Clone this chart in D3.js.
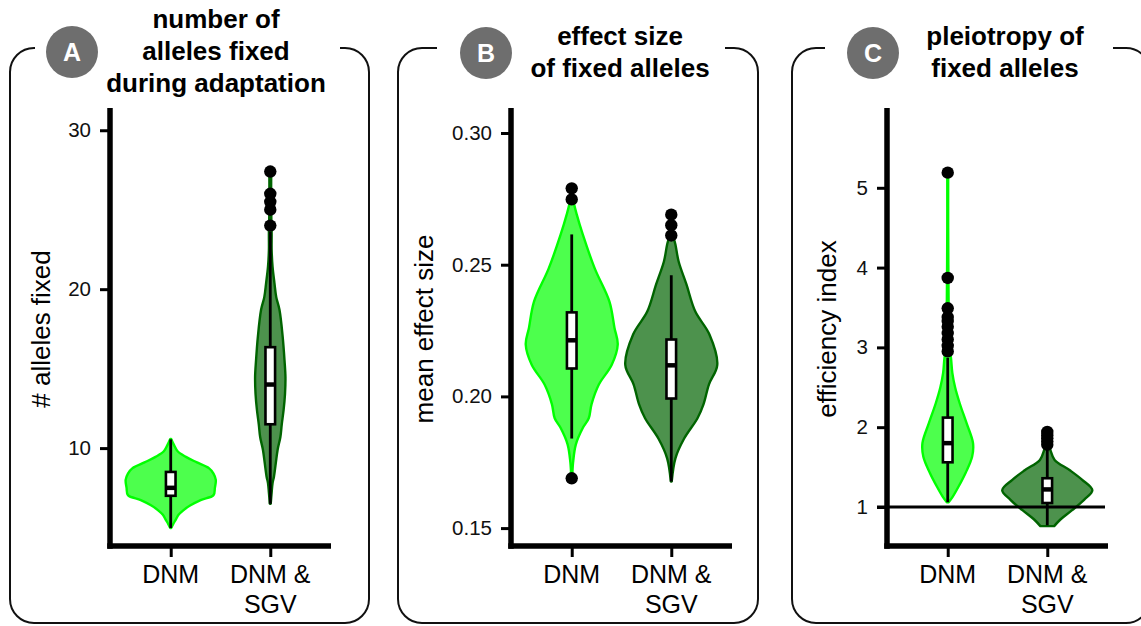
<!DOCTYPE html>
<html><head><meta charset="utf-8">
<script src="https://cdn.jsdelivr.net/npm/d3@7"></script>
<style>
body{margin:0;background:#fff}
svg{display:block}
text{font-family:"Liberation Sans",Arial,Helvetica,sans-serif;fill:#000}
</style>
</head><body>
<svg id="chart" width="1141" height="626"></svg>
<script>
// ---------------- DATA ----------------
const categories = ["DNM", "DNM & SGV"];
const categoryLines = [["DNM"], ["DNM &", "SGV"]];

// panel A: number of alleles fixed
const ticksA = [10, 20, 30];
const domainA = [3.84, 31.4];
// density profiles: [value, relative density]
const violinA_DNM = [[10.57,0.01],[10.2,0.07],[9.8,0.15],[9.45,0.33],[9.1,0.57],[8.74,0.83],[8.4,0.93],[8.0,0.98],[7.5,0.96],[7.04,0.93],[6.73,0.65],[6.4,0.43],[6.1,0.28],[5.8,0.17],[5.5,0.11],[5.2,0.05],[4.97,0.01]];
const violinA_SGV = [[27.5,0.02],[25,0.02],[23.5,0.03],[22.45,0.03],[21.4,0.05],[20.4,0.09],[19.5,0.13],[18.7,0.2],[17.0,0.27],[15.5,0.31],[14.47,0.33],[13.4,0.32],[12.4,0.29],[11.5,0.25],[10.7,0.22],[9.9,0.16],[9.05,0.12],[8.2,0.08],[7.8,0.05],[7.2,0.03],[6.5,0.01]];
// box stats: [lower whisker, q1, median, q3, upper whisker]
const boxA_DNM = [4.97, 7.0, 7.5, 8.5, 10.55];
const boxA_SGV = [6.5, 11.5, 14.0, 16.35, 23.6];
const outliersA_DNM = [];
const outliersA_SGV = [24.0, 25.0, 25.5, 26.0, 27.4];

// panel B: mean effect size
const ticksB = [0.15, 0.20, 0.25, 0.30];
const domainB = [0.1432, 0.3095];
const violinB_DNM = [[0.279,0.01],[0.274,0.04],[0.269,0.11],[0.2615,0.24],[0.2486,0.5],[0.236,0.82],[0.226,0.93],[0.2197,1.0],[0.212,0.87],[0.2045,0.59],[0.197,0.43],[0.1917,0.37],[0.188,0.24],[0.1818,0.09],[0.175,0.03],[0.1689,0.01]];
const violinB_SGV = [[0.2695,0.01],[0.2676,0.02],[0.2611,0.04],[0.2577,0.09],[0.2512,0.16],[0.2425,0.33],[0.2323,0.52],[0.2235,0.83],[0.212,1.0],[0.2046,0.82],[0.197,0.7],[0.1917,0.57],[0.184,0.28],[0.1765,0.09],[0.1677,0.01]];
const boxB_DNM = [0.184, 0.2106, 0.2213, 0.2319, 0.2615];
const boxB_SGV = [0.1677, 0.1992, 0.2118, 0.2216, 0.246];
const outliersB_DNM = [0.1689, 0.2748, 0.279];
const outliersB_SGV = [0.2611, 0.265, 0.269];

// panel C: efficiency index
const ticksC = [1, 2, 3, 4, 5];
const domainC = [0.511, 6.0];
const refLineC = 1;
const violinC_DNM = [[5.19,0.01],[4.5,0.01],[3.5,0.02],[3.0,0.03],[2.87,0.07],[2.68,0.1],[2.5,0.16],[2.3,0.26],[2.05,0.41],[1.8,0.55],[1.63,0.53],[1.43,0.39],[1.25,0.23],[1.13,0.11],[1.06,0.02]];
const violinC_SGV = [[1.93,0.02],[1.8,0.04],[1.71,0.07],[1.59,0.16],[1.46,0.49],[1.34,0.76],[1.21,0.98],[1.09,0.8],[0.96,0.54],[0.84,0.28],[0.76,0.15]];
const boxC_DNM = [1.06, 1.56, 1.8, 2.12, 2.87];
const boxC_SGV = [0.77, 1.05, 1.22, 1.36, 1.74];
const outliersC_DNM = [2.95, 3.02, 3.1, 3.18, 3.26, 3.33, 3.38, 3.49, 3.87, 5.19];
const outliersC_SGV = [1.78, 1.82, 1.86, 1.9, 1.94];

// ---------------- STYLE / LAYOUT ----------------
const fills = ["#4dff4d", "#4d924d"];
const strokes = ["#00ff00", "#006400"];
const plotTop = 108, plotBottom = 546, plotW = 221;

const svg = d3.select("#chart");

function drawPanel(o) {
  const g = svg.append("g");
  // frame with a gap at top
  const [L, T, R, B] = o.frame, r = 24;
  const p = d3.path();
  p.moveTo(o.gap[0], T);
  p.lineTo(L + r, T);
  p.arcTo(L, T, L, T + r, r);
  p.lineTo(L, B - r);
  p.arcTo(L, B, L + r, B, r);
  p.lineTo(R - r, B);
  p.arcTo(R, B, R, B - r, r);
  p.lineTo(R, T + r);
  p.arcTo(R, T, R - r, T, r);
  p.lineTo(o.gap[1], T);
  g.append("path").attr("d", p.toString()).attr("fill", "none")
    .attr("stroke", "#111").attr("stroke-width", 2);

  // badge
  g.append("circle").attr("cx", o.badge[0]).attr("cy", o.badge[1]).attr("r", 26).attr("fill", "#6e6e6e");
  g.append("text").attr("x", o.badge[0]).attr("y", o.badge[1] + 9).attr("text-anchor", "middle")
    .attr("font-size", 25).attr("font-weight", "bold").style("fill", "#fff").text(o.letter);

  // title
  o.title.forEach((t, i) => {
    g.append("text").attr("x", o.titleX).attr("y", o.titleY + i * 32).attr("text-anchor", "middle")
      .attr("font-size", 26).attr("font-weight", "bold").text(t);
  });

  const y = d3.scaleLinear().domain(o.domain).range([plotBottom, plotTop]);
  const x = d3.scalePoint().domain(categories).range([o.ax, o.ax + plotW]).padding(0.61);
  const w = d3.scaleLinear().domain([0, 1]).range([0, 46]);

  // violins
  o.violins.forEach((v, i) => {
    const cx = x(categories[i]);
    const area = d3.area().curve(d3.curveCatmullRom)
      .y(d => y(d[0])).x0(d => cx - w(d[1])).x1(d => cx + w(d[1]));
    g.append("path").attr("d", area(v)).attr("fill", fills[i]).attr("stroke", strokes[i])
      .attr("stroke-width", 2.4).attr("stroke-linejoin", "round");
  });

  if (o.refLine !== undefined) {
    g.append("line").attr("x1", o.ax - 10).attr("x2", o.ax + plotW - 3)
      .attr("y1", y(o.refLine)).attr("y2", y(o.refLine)).attr("stroke", "#000").attr("stroke-width", 3);
  }

  // boxes
  o.boxes.forEach((b, i) => {
    const cx = x(categories[i]);
    g.append("line").attr("x1", cx).attr("x2", cx).attr("y1", y(b[0])).attr("y2", y(b[4]))
      .attr("stroke", "#000").attr("stroke-width", 2.8);
    g.append("rect").attr("x", cx - 4.8).attr("width", 9.6).attr("y", y(b[3])).attr("height", y(b[1]) - y(b[3]))
      .attr("fill", "#fff").attr("stroke", "#000").attr("stroke-width", 2.6);
    g.append("line").attr("x1", cx - 4.8).attr("x2", cx + 4.8).attr("y1", y(b[2])).attr("y2", y(b[2]))
      .attr("stroke", "#000").attr("stroke-width", 4.5);
  });

  // outliers
  o.outliers.forEach((arr, i) => {
    const cx = x(categories[i]);
    g.selectAll(null).data(arr).enter().append("circle")
      .attr("cx", cx).attr("cy", d => y(d)).attr("r", 6.2).attr("fill", "#000");
  });

  // y axis
  const ya = g.append("g").attr("transform", `translate(${o.ax},0)`)
    .call(d3.axisLeft(y).tickValues(o.ticks).tickSize(10).tickPadding(9).tickFormat(o.fmt));
  ya.select(".domain").remove();
  ya.selectAll(".tick line").attr("stroke", "#000").attr("stroke-width", 3);
  ya.selectAll(".tick text").attr("font-size", 20.5).attr("font-family", null).style("fill", "#111");

  // x axis
  const xa = g.append("g").attr("transform", `translate(0,${plotBottom})`)
    .call(d3.axisBottom(x).tickSize(11).tickFormat(""));
  xa.select(".domain").remove();
  xa.selectAll(".tick line").attr("stroke", "#000").attr("stroke-width", 3);
  categories.forEach((c, i) => {
    categoryLines[i].forEach((ln, j) => {
      g.append("text").attr("x", x(c)).attr("y", 583 + j * 30).attr("text-anchor", "middle")
        .attr("font-size", 25).text(ln);
    });
  });

  // thick axis lines
  g.append("line").attr("x1", o.ax).attr("x2", o.ax).attr("y1", plotTop).attr("y2", plotBottom + 2.75)
    .attr("stroke", "#000").attr("stroke-width", 5.5);
  g.append("line").attr("x1", o.ax - 2.75).attr("x2", o.ax + plotW).attr("y1", plotBottom).attr("y2", plotBottom)
    .attr("stroke", "#000").attr("stroke-width", 5.5);

  // y title
  g.append("text").attr("transform", `translate(${o.yTitleX},329) rotate(-90)`)
    .attr("text-anchor", "middle").attr("font-size", 26).text(o.yTitle);
}

drawPanel({
  frame: [10, 48, 369, 623], gap: [35, 340], badge: [72, 52], letter: "A",
  title: ["number of", "alleles fixed", "during adaptation"], titleX: 216, titleY: 28,
  ax: 110, domain: domainA, ticks: ticksA, fmt: d3.format("d"),
  violins: [violinA_DNM, violinA_SGV], boxes: [boxA_DNM, boxA_SGV], outliers: [outliersA_DNM, outliersA_SGV],
  yTitle: "# alleles fixed", yTitleX: 50
});
drawPanel({
  frame: [398, 48, 758, 623], gap: [437, 725], badge: [486, 53], letter: "B",
  title: ["effect size", "of fixed alleles"], titleX: 620, titleY: 45,
  ax: 511, domain: domainB, ticks: ticksB, fmt: d3.format(".2f"),
  violins: [violinB_DNM, violinB_SGV], boxes: [boxB_DNM, boxB_SGV], outliers: [outliersB_DNM, outliersB_SGV],
  yTitle: "mean effect size", yTitleX: 433
});
drawPanel({
  frame: [792, 48, 1150, 623], gap: [825, 1113], badge: [873, 53], letter: "C",
  title: ["pleiotropy of", "fixed alleles"], titleX: 1005, titleY: 45,
  ax: 887, domain: domainC, ticks: ticksC, fmt: d3.format("d"),
  violins: [violinC_DNM, violinC_SGV], boxes: [boxC_DNM, boxC_SGV], outliers: [outliersC_DNM, outliersC_SGV],
  refLine: refLineC,
  yTitle: "efficiency index", yTitleX: 836
});
</script>
</body></html>
